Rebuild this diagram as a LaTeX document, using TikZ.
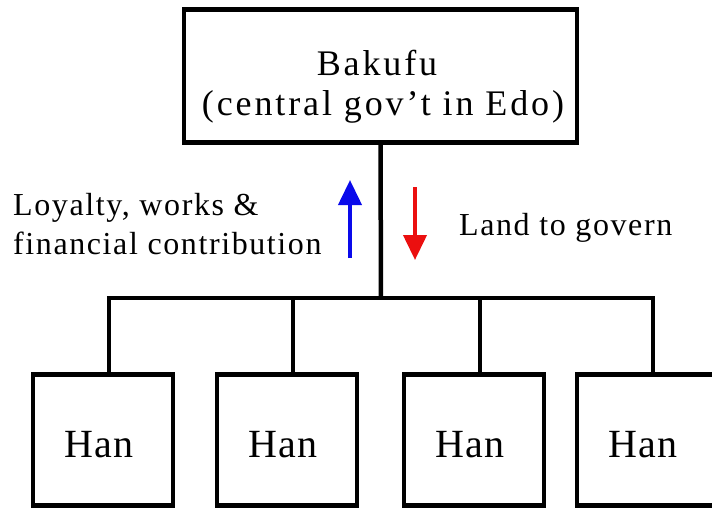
\documentclass[tikz,border=0pt]{standalone}
\usepackage{fontspec}
\setmainfont{Liberation Serif}
\newfontfamily\bakfont[LetterSpace=8]{Liberation Serif}
\newfontfamily\sidefont[LetterSpace=5]{Liberation Serif}
\newfontfamily\hanfont[LetterSpace=3]{Liberation Serif}
\usetikzlibrary{arrows.meta}
\definecolor{upblue}{RGB}{10,10,235}
\definecolor{downred}{RGB}{235,15,15}
\begin{document}
\begin{tikzpicture}[x=1pt,y=-1pt,
  box/.style={draw=black,line width=4.5pt,inner sep=0pt,fill=white},
  conn/.style={draw=black,line width=4.5pt},
  hanbox/.style={box,minimum width=140pt,minimum height=131pt},
  hantext/.style={font=\hanfont\fontsize{40}{48}\selectfont,anchor=base,inner sep=0pt},
  baktext/.style={font=\bakfont\fontsize{36}{42}\selectfont,anchor=base,inner sep=0pt},
  sidetext/.style={font=\sidefont\fontsize{32}{38}\selectfont,anchor=base west,inner sep=0pt},
  flow/.style={line width=4pt,-{Triangle[width=23pt,length=25pt]}}
]
\useasboundingbox (0,0) rectangle (712,509);
\fill[white] (0,0) rectangle (712,509);
\clip (0,0) rectangle (712,509);

% top box
\node[box,minimum width=393pt,minimum height=133pt] (bak) at (380.5,76) {};
\node[baktext] (bakA) at (377,75) {Bakufu};
\node[baktext] (bakB) at (383,115) {(central gov’t in Edo)};

% Han boxes
\node[hanbox] (han1) at (103,440) {};
\node[hanbox] (han2) at (287,440) {};
\node[hanbox] (han3) at (474,440) {};
\node[hanbox] (han4) at (647,440) {};
\node[hantext] (han1t) at (99,457) {Han};
\node[hantext] (han2t) at (283,457) {Han};
\node[hantext] (han3t) at (470,457) {Han};
\node[hantext] (han4t) at (643,457) {Han};

% connectors
\coordinate (bus) at (381,298);
\coordinate (busL) at (106.75,298);
\coordinate (busR) at (655.25,298);
\draw[conn] (bak.south) -- (bus);
\draw[conn] (busL) -- (busR);
\draw[conn] ([xshift=6pt]han1.north) -- ([xshift=6pt]han1.north |- bus);
\draw[conn] ([xshift=6pt]han2.north) -- ([xshift=6pt]han2.north |- bus);
\draw[conn] ([xshift=6pt]han3.north) -- ([xshift=6pt]han3.north |- bus);
\draw[conn] ([xshift=6pt]han4.north) -- ([xshift=6pt]han4.north |- bus);

% side labels
\node[sidetext] (loy) at (13,215) {Loyalty, works \&};
\node[sidetext] (fin) at (13,254) {financial contribution};
\node[sidetext] (land) at (459,235) {Land to govern};

% arrows
\coordinate (upS) at (350,258);
\coordinate (upE) at (350,180);
\coordinate (dnS) at (415,187);
\coordinate (dnE) at (415,260);
\draw[flow,upblue] (upS) -- (upE);
\draw[flow,downred] (dnS) -- (dnE);
\end{tikzpicture}
\end{document}
